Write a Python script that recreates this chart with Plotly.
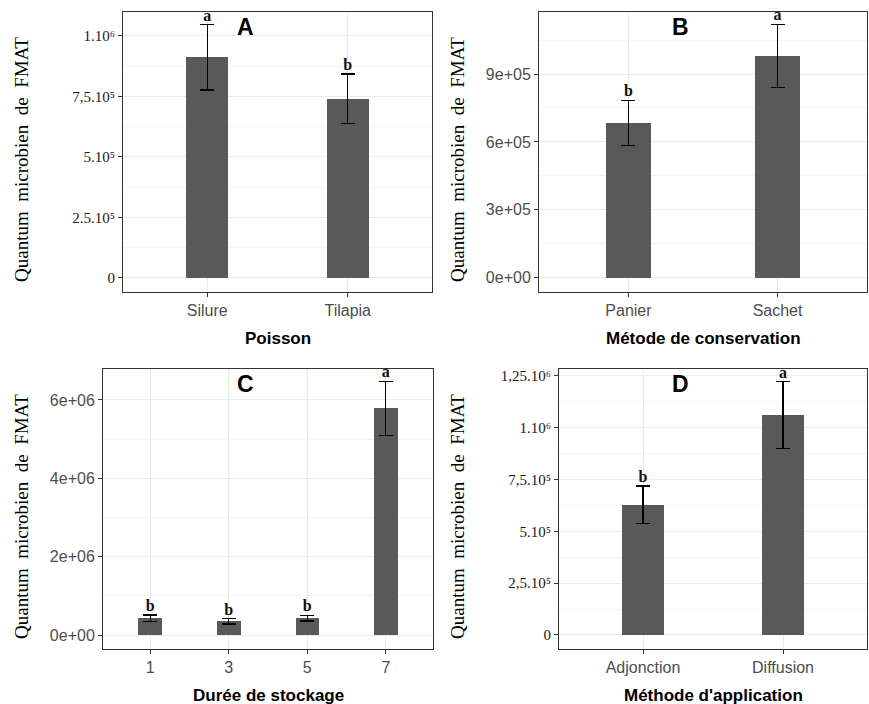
import plotly.graph_objects as go

# ---------------- data ----------------
poisson_cats = ["Silure", "Tilapia"]
poisson_mean = [0.912e6, 0.740e6]
poisson_se = [0.135e6, 0.103e6]
poisson_letters = ["a", "b"]

conserv_cats = ["Panier", "Sachet"]
conserv_mean = [0.684e6, 0.980e6]
conserv_se = [0.100e6, 0.139e6]
conserv_letters = ["b", "a"]

duree_cats = ["1", "3", "5", "7"]
duree_mean = [0.43e6, 0.35e6, 0.43e6, 5.79e6]
duree_se = [0.08e6, 0.07e6, 0.07e6, 0.69e6]
duree_letters = ["b", "b", "b", "a"]

appli_cats = ["Adjonction", "Diffusion"]
appli_mean = [0.628e6, 1.060e6]
appli_se = [0.090e6, 0.160e6]
appli_letters = ["b", "a"]

A_tickvals = [0, 2.5e5, 5e5, 7.5e5, 1e6]
A_ticktext = ["0", "2.5.10⁵", "5.10⁵", "7,5.10⁵", "1.10⁶"]
B_tickvals = [0, 3e5, 6e5, 9e5]
B_ticktext = ["0e+00", "3e+05", "6e+05", "9e+05"]
C_tickvals = [0, 2e6, 4e6, 6e6]
C_ticktext = ["0e+00", "2e+06", "4e+06", "6e+06"]
D_tickvals = [0, 2.5e5, 5e5, 7.5e5, 1e6, 1.25e6]
D_ticktext = ["0", "2,5.10⁵", "5.10⁵", "7,5.10⁵", "1.10⁶", "1,25.10⁶"]

W, H = 869, 704
SANS = "Liberation Sans"
SERIF = "Liberation Serif"
BAR = "#595959"
GRID = "#EBEBEB"
MINOR = "#F3F3F3"

fig = go.Figure()

panels = [
    (poisson_cats, poisson_mean, poisson_se, poisson_letters, (123, 432), (12, 292),
     [-0.058e6, 1.099e6], A_tickvals, A_ticktext, True, 1.25e5, "A", "Poisson", 21),
    (conserv_cats, conserv_mean, conserv_se, conserv_letters, (539, 867), (12, 292),
     [-0.063e6, 1.174e6], B_tickvals, B_ticktext, False, 1.5e5, "B", "Métode de conservation", 457),
    (duree_cats, duree_mean, duree_se, duree_letters, (103, 433), (369, 649),
     [-0.357e6, 6.79e6], C_tickvals, C_ticktext, False, 1e6, "C", "Durée de stockage", 21),
    (appli_cats, appli_mean, appli_se, appli_letters, (559, 867), (369, 649),
     [-0.0675e6, 1.282e6], D_tickvals, D_ticktext, True, 1.25e5, "D", "Méthode d'application", 457),
]

annotations = []
for i, (cats, mean, se, letters, xd, yd, yr, tv, tt, serif, mdt, letter, xtitle, ytx) in enumerate(panels):
    n = i + 1
    xa = "x" if n == 1 else f"x{n}"
    ya = "y" if n == 1 else f"y{n}"
    fig.add_trace(go.Bar(
        x=cats, y=mean, width=0.3, marker=dict(color=BAR, line=dict(width=0)),
        error_y=dict(type="data", array=se, color="black", thickness=1.2, width=7),
        xaxis=xa, yaxis=ya, showlegend=False, hoverinfo="skip"))
    tops = [m + s for m, s in zip(mean, se)]
    fig.add_trace(go.Scatter(
        x=cats, y=tops, mode="text", text=letters, textposition="top center",
        textfont=dict(family=SERIF, size=16, color="#111", weight="bold"),
        cliponaxis=True,
        xaxis=xa, yaxis=ya, showlegend=False, hoverinfo="skip"))

    xdom = [xd[0] / W, xd[1] / W]
    ydom = [1 - yd[1] / H, 1 - yd[0] / H]
    xkey = "xaxis" if n == 1 else f"xaxis{n}"
    ykey = "yaxis" if n == 1 else f"yaxis{n}"
    fig.layout[xkey] = dict(
        domain=xdom, anchor=ya, type="category", range=[-0.6, len(cats) - 0.4],
        showgrid=True, gridcolor=GRID, gridwidth=1,
        showline=True, mirror=True, linecolor="#333333", linewidth=1,
        ticks="outside", ticklen=4, tickcolor="#333333",
        tickfont=dict(family=SANS, size=16, color="#4D4D4D"), zeroline=False, fixedrange=True)
    fig.layout[ykey] = dict(
        domain=ydom, anchor=xa, range=yr, tickmode="array", tickvals=tv, ticktext=tt,
        showgrid=True, gridcolor=GRID, gridwidth=1,
        minor=dict(tickmode="linear", tick0=0, dtick=mdt, showgrid=True, gridcolor=MINOR, ticks=""),
        showline=True, mirror=True, linecolor="#333333", linewidth=1,
        ticks="outside", ticklen=4, tickcolor="#333333",
        tickfont=dict(family=SERIF if serif else SANS, size=15 if serif else 16,
                      color="#1A1A1A" if serif else "#4D4D4D"),
        zeroline=False, fixedrange=True)

    cx = (xd[0] + xd[1]) / 2
    annotations.append(dict(
        text=letter, x=(245 if n in (1, 3) else 680) / W,
        y=1 - (yd[0] + 15) / H, xref="paper", yref="paper", showarrow=False,
        xanchor="center", yanchor="middle",
        font=dict(family=SANS, size=23, color="black", weight="bold")))
    annotations.append(dict(
        text=xtitle, x=cx / W, y=1 - (yd[1] + 46) / H, xref="paper", yref="paper",
        showarrow=False, xanchor="center", yanchor="middle",
        font=dict(family=SANS, size=17, color="black", weight="bold")))
    annotations.append(dict(
        text="Quantum\u00a0\u00a0microbien\u00a0\u00a0de\u00a0\u00a0FMAT", x=ytx / W,
        y=1 - ((yd[0] + yd[1]) / 2 + 8) / H, xref="paper", yref="paper", showarrow=False,
        textangle=-90, xanchor="center", yanchor="middle",
        font=dict(family=SERIF, size=19, color="black")))

fig.update_layout(
    width=W, height=H, margin=dict(l=0, r=0, t=0, b=0),
    paper_bgcolor="white", plot_bgcolor="white", annotations=annotations, bargap=0)

fig.write_html("out.html")
